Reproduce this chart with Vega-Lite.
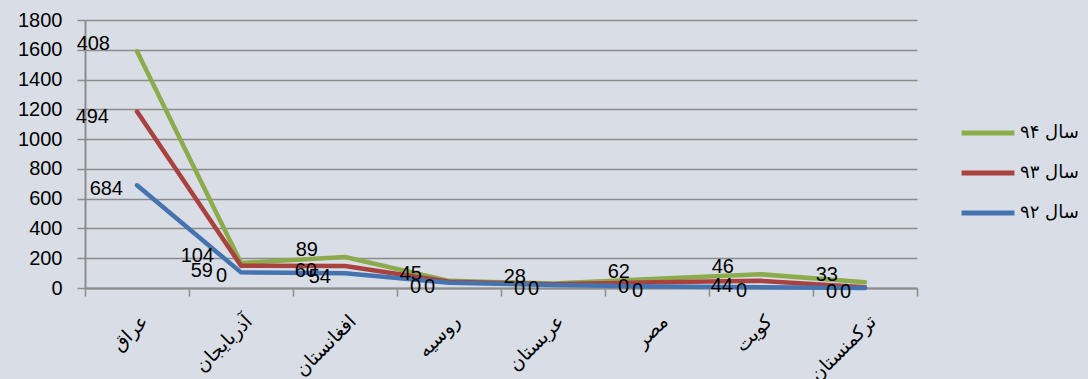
{
  "$schema": "https://vega.github.io/schema/vega-lite/v6.json",
  "autosize": {"type": "none"},
  "width": 832,
  "height": 268,
  "padding": {"left": 85, "top": 20, "right": 171, "bottom": 91},
  "background": "#d9dee6",
  "config": {"view": {"stroke": null}, "font": "Liberation Sans"},
  "data": {
    "values": [
      {"country": "عراق", "series": "سال ۹۴", "value": 1590, "label": "408"},
      {"country": "عراق", "series": "سال ۹۳", "value": 1185, "label": "494"},
      {"country": "عراق", "series": "سال ۹۲", "value": 690, "label": "684"},
      {"country": "آذربایجان", "series": "سال ۹۴", "value": 168, "label": "104"},
      {"country": "آذربایجان", "series": "سال ۹۳", "value": 150, "label": "59"},
      {"country": "آذربایجان", "series": "سال ۹۲", "value": 105, "label": "0"},
      {"country": "افغانستان", "series": "سال ۹۴", "value": 208, "label": "89"},
      {"country": "افغانستان", "series": "سال ۹۳", "value": 148, "label": "60"},
      {"country": "افغانستان", "series": "سال ۹۲", "value": 99, "label": "54"},
      {"country": "روسیه", "series": "سال ۹۴", "value": 48, "label": "45"},
      {"country": "روسیه", "series": "سال ۹۳", "value": 42, "label": "0"},
      {"country": "روسیه", "series": "سال ۹۲", "value": 35, "label": "0"},
      {"country": "عربستان", "series": "سال ۹۴", "value": 30, "label": "28"},
      {"country": "عربستان", "series": "سال ۹۳", "value": 25, "label": "0"},
      {"country": "عربستان", "series": "سال ۹۲", "value": 20, "label": "0"},
      {"country": "مصر", "series": "سال ۹۴", "value": 62, "label": "62"},
      {"country": "مصر", "series": "سال ۹۳", "value": 38, "label": "0"},
      {"country": "مصر", "series": "سال ۹۲", "value": 10, "label": "0"},
      {"country": "کویت", "series": "سال ۹۴", "value": 92, "label": "46"},
      {"country": "کویت", "series": "سال ۹۳", "value": 48, "label": "44"},
      {"country": "کویت", "series": "سال ۹۲", "value": 5, "label": "0"},
      {"country": "ترکمنستان", "series": "سال ۹۴", "value": 38, "label": "33"},
      {"country": "ترکمنستان", "series": "سال ۹۳", "value": 5, "label": "0"},
      {"country": "ترکمنستان", "series": "سال ۹۲", "value": 0, "label": "0"}
    ]
  },
  "encoding": {
    "x": {
      "field": "country",
      "type": "nominal",
      "sort": null,
      "bandPosition": 0.5,
      "scale": {"type": "band", "paddingInner": 0, "paddingOuter": 0},
      "axis": {
        "title": null,
        "bandPosition": 1,
        "tickExtra": true,
        "labelOffset": 8,
        "labelAngle": -45,
        "labelAlign": "right",
        "labelBaseline": "middle",
        "labelPadding": 22,
        "labelFontSize": 19,
        "labelFont": "DejaVu Sans",
        "labelColor": "#000000",
        "tickSize": 8,
        "tickColor": "#8c8c8c",
        "tickWidth": 1.5,
        "domainColor": "#8c8c8c",
        "domainWidth": 2,
        "grid": false
      }
    },
    "y": {
      "field": "value",
      "type": "quantitative",
      "scale": {"domain": [0, 1800], "nice": false},
      "axis": {
        "title": null,
        "format": "d",
        "values": [0, 200, 400, 600, 800, 1000, 1200, 1400, 1600, 1800],
        "grid": true,
        "gridColor": "#8c8c8c",
        "gridWidth": 1.5,
        "domainColor": "#8c8c8c",
        "domainWidth": 2,
        "tickColor": "#8c8c8c",
        "tickSize": 8,
        "tickWidth": 1.5,
        "labelFontSize": 20,
        "labelColor": "#000000",
        "labelPadding": 15
      }
    }
  },
  "layer": [
    {
      "mark": {"type": "line", "strokeWidth": 4.5, "interpolate": "linear", "strokeCap": "round", "strokeJoin": "round"},
      "encoding": {
        "color": {
          "field": "series",
          "type": "nominal",
          "scale": {"domain": ["سال ۹۴", "سال ۹۳", "سال ۹۲"], "range": ["#8cab4c", "#a9413f", "#4573b0"]},
          "legend": {
            "orient": "none",
            "legendX": 874,
            "legendY": 84,
            "title": null,
            "symbolType": "stroke",
            "symbolSize": 2800,
            "symbolStrokeWidth": 5,
            "labelFontSize": 18,
            "labelFont": "DejaVu Sans",
            "labelColor": "#000000",
            "labelOffset": 3,
            "rowPadding": 1
          }
        }
      }
    },
    {
      "transform": [{"filter": "datum.series === 'سال ۹۴'"}],
      "mark": {"type": "text", "align": "right", "baseline": "middle", "dx": -27, "dy": -7, "fontSize": 20, "color": "#000000"},
      "encoding": {"text": {"field": "label"}}
    },
    {
      "transform": [{"filter": "datum.series === 'سال ۹۳'"}],
      "mark": {"type": "text", "align": "right", "baseline": "middle", "dx": -28, "dy": 5, "fontSize": 20, "color": "#000000"},
      "encoding": {"text": {"field": "label"}}
    },
    {
      "transform": [{"filter": "datum.series === 'سال ۹۲'"}],
      "mark": {"type": "text", "align": "right", "baseline": "middle", "dx": -14, "dy": 4, "fontSize": 20, "color": "#000000"},
      "encoding": {"text": {"field": "label"}}
    }
  ]
}
